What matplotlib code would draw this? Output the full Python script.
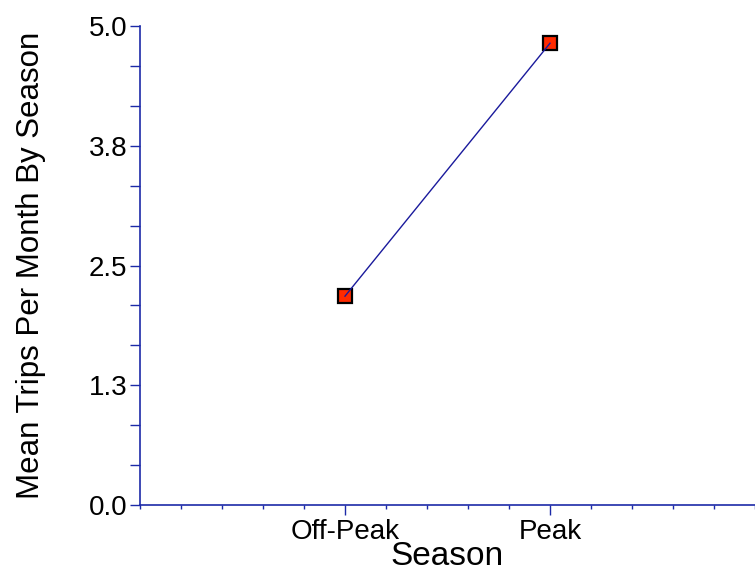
import matplotlib
matplotlib.use("Agg")
from matplotlib import pyplot as plt
from matplotlib.ticker import FixedLocator, MultipleLocator

plt.rcParams['font.family'] = ['Liberation Sans', 'DejaVu Sans']

# 季節ごとの月平均トリップ数
seasons = ["Off-Peak", "Peak"]
mean_trips = [2.18, 4.82]
y_ticks = [0.0, 1.25, 2.5, 3.75, 5.0]
y_tick_labels = ["0.0", "1.3", "2.5", "3.8", "5.0"]

axis_color = "#1c2aa8"

fig = plt.figure(figsize=(7.55, 5.74), dpi=100)
ax = fig.add_axes([140 / 755, 69 / 574, 615 / 755, 479 / 574])

x = list(range(1, len(seasons) + 1))
ax.plot(x, mean_trips, linestyle="none", marker="s", markersize=9.5,
        markerfacecolor="#ff2a00", markeredgecolor="black", markeredgewidth=1.6, zorder=2)
ax.plot(x, mean_trips, color="#1a1a9c", linewidth=1.0, zorder=3)

ax.set_xlim(0, 3)
ax.set_ylim(0, 5)
ax.xaxis.set_major_locator(FixedLocator(x))
ax.set_xticklabels(seasons)
ax.xaxis.set_minor_locator(MultipleLocator(0.2))
ax.yaxis.set_major_locator(FixedLocator(y_ticks))
ax.set_yticklabels(y_tick_labels)
ax.yaxis.set_minor_locator(MultipleLocator(5 / 12))

for side in ["top", "right"]:
    ax.spines[side].set_visible(False)
for side in ["left", "bottom"]:
    ax.spines[side].set_color(axis_color)
    ax.spines[side].set_linewidth(1.2)

ax.tick_params(axis="both", which="both", color=axis_color, labelsize=20, width=1.0)
ax.tick_params(axis="y", which="both", length=7, pad=2)
ax.tick_params(axis="x", which="major", length=7, pad=3)
ax.tick_params(axis="x", which="minor", length=3)

ax.set_xlabel("Season", fontsize=24, labelpad=-3)
ax.set_ylabel("Mean Trips Per Month By Season", fontsize=22.5, labelpad=31)

fig.savefig("out.png", dpi=100)
